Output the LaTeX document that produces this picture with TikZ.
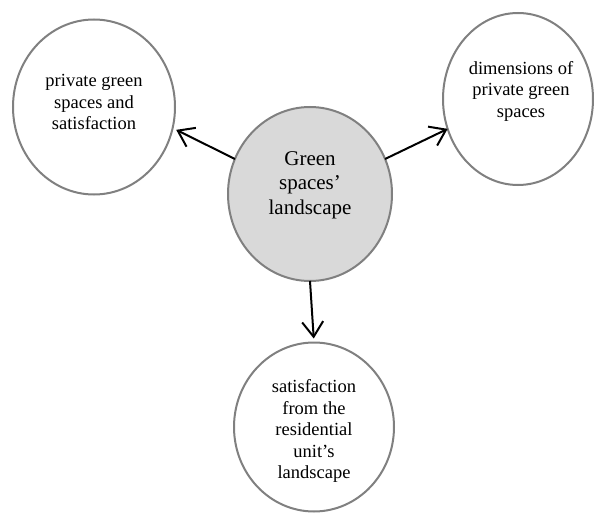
\documentclass[tikz,border=0pt]{standalone}
\usepackage{fontspec}
\setmainfont{Liberation Serif}
\usetikzlibrary{shapes.geometric,arrows.meta}
\definecolor{rim}{RGB}{128,128,128}
\definecolor{hub}{RGB}{217,217,217}
\begin{document}
\begin{tikzpicture}[x=1pt,y=-1pt,
  bubble/.style={ellipse, draw=rim, line width=2pt, inner sep=0pt, outer sep=0pt},
  caption/.style={align=center, inner sep=0pt, font=\fontsize{18.5}{21.5}\selectfont},
  bigcaption/.style={align=center, inner sep=0pt, font=\fontsize{21}{24.5}\selectfont},
  link/.style={draw=black, line width=2pt, -{Straight Barb[length=15pt,width=21pt]}}]
\useasboundingbox (0,0) rectangle (595,519);

% the four bubbles
\node[bubble, fill=hub, minimum width=164pt, minimum height=174pt] (c) at (310,194) {};
\node[bubble, fill=white, minimum width=162pt, minimum height=175pt] (l) at (94,107) {};
\node[bubble, fill=white, minimum width=150pt, minimum height=172pt] (r) at (518,99) {};
\node[bubble, fill=white, minimum width=160pt, minimum height=169pt] (b) at (314,427) {};

% their texts
\node[bigcaption] (ct) at (310,185) {Green\\spaces’\\landscape};
\node[caption] (lt) at (94,102) {private green\\spaces and\\satisfaction};
\node[caption] (rt) at (521,91) {dimensions of\\private green\\spaces};
\node[caption] (bt) at (314,431) {satisfaction\\from the\\residential\\unit’s\\landscape};

% arrows from the hub
\draw[link, shorten >=4pt] (c.155) -- (l.-15);
\draw[link] (c.25) -- (r.-157);
\draw[link, shorten >=4pt] (c.south) -- (b.north);
\end{tikzpicture}
\end{document}
